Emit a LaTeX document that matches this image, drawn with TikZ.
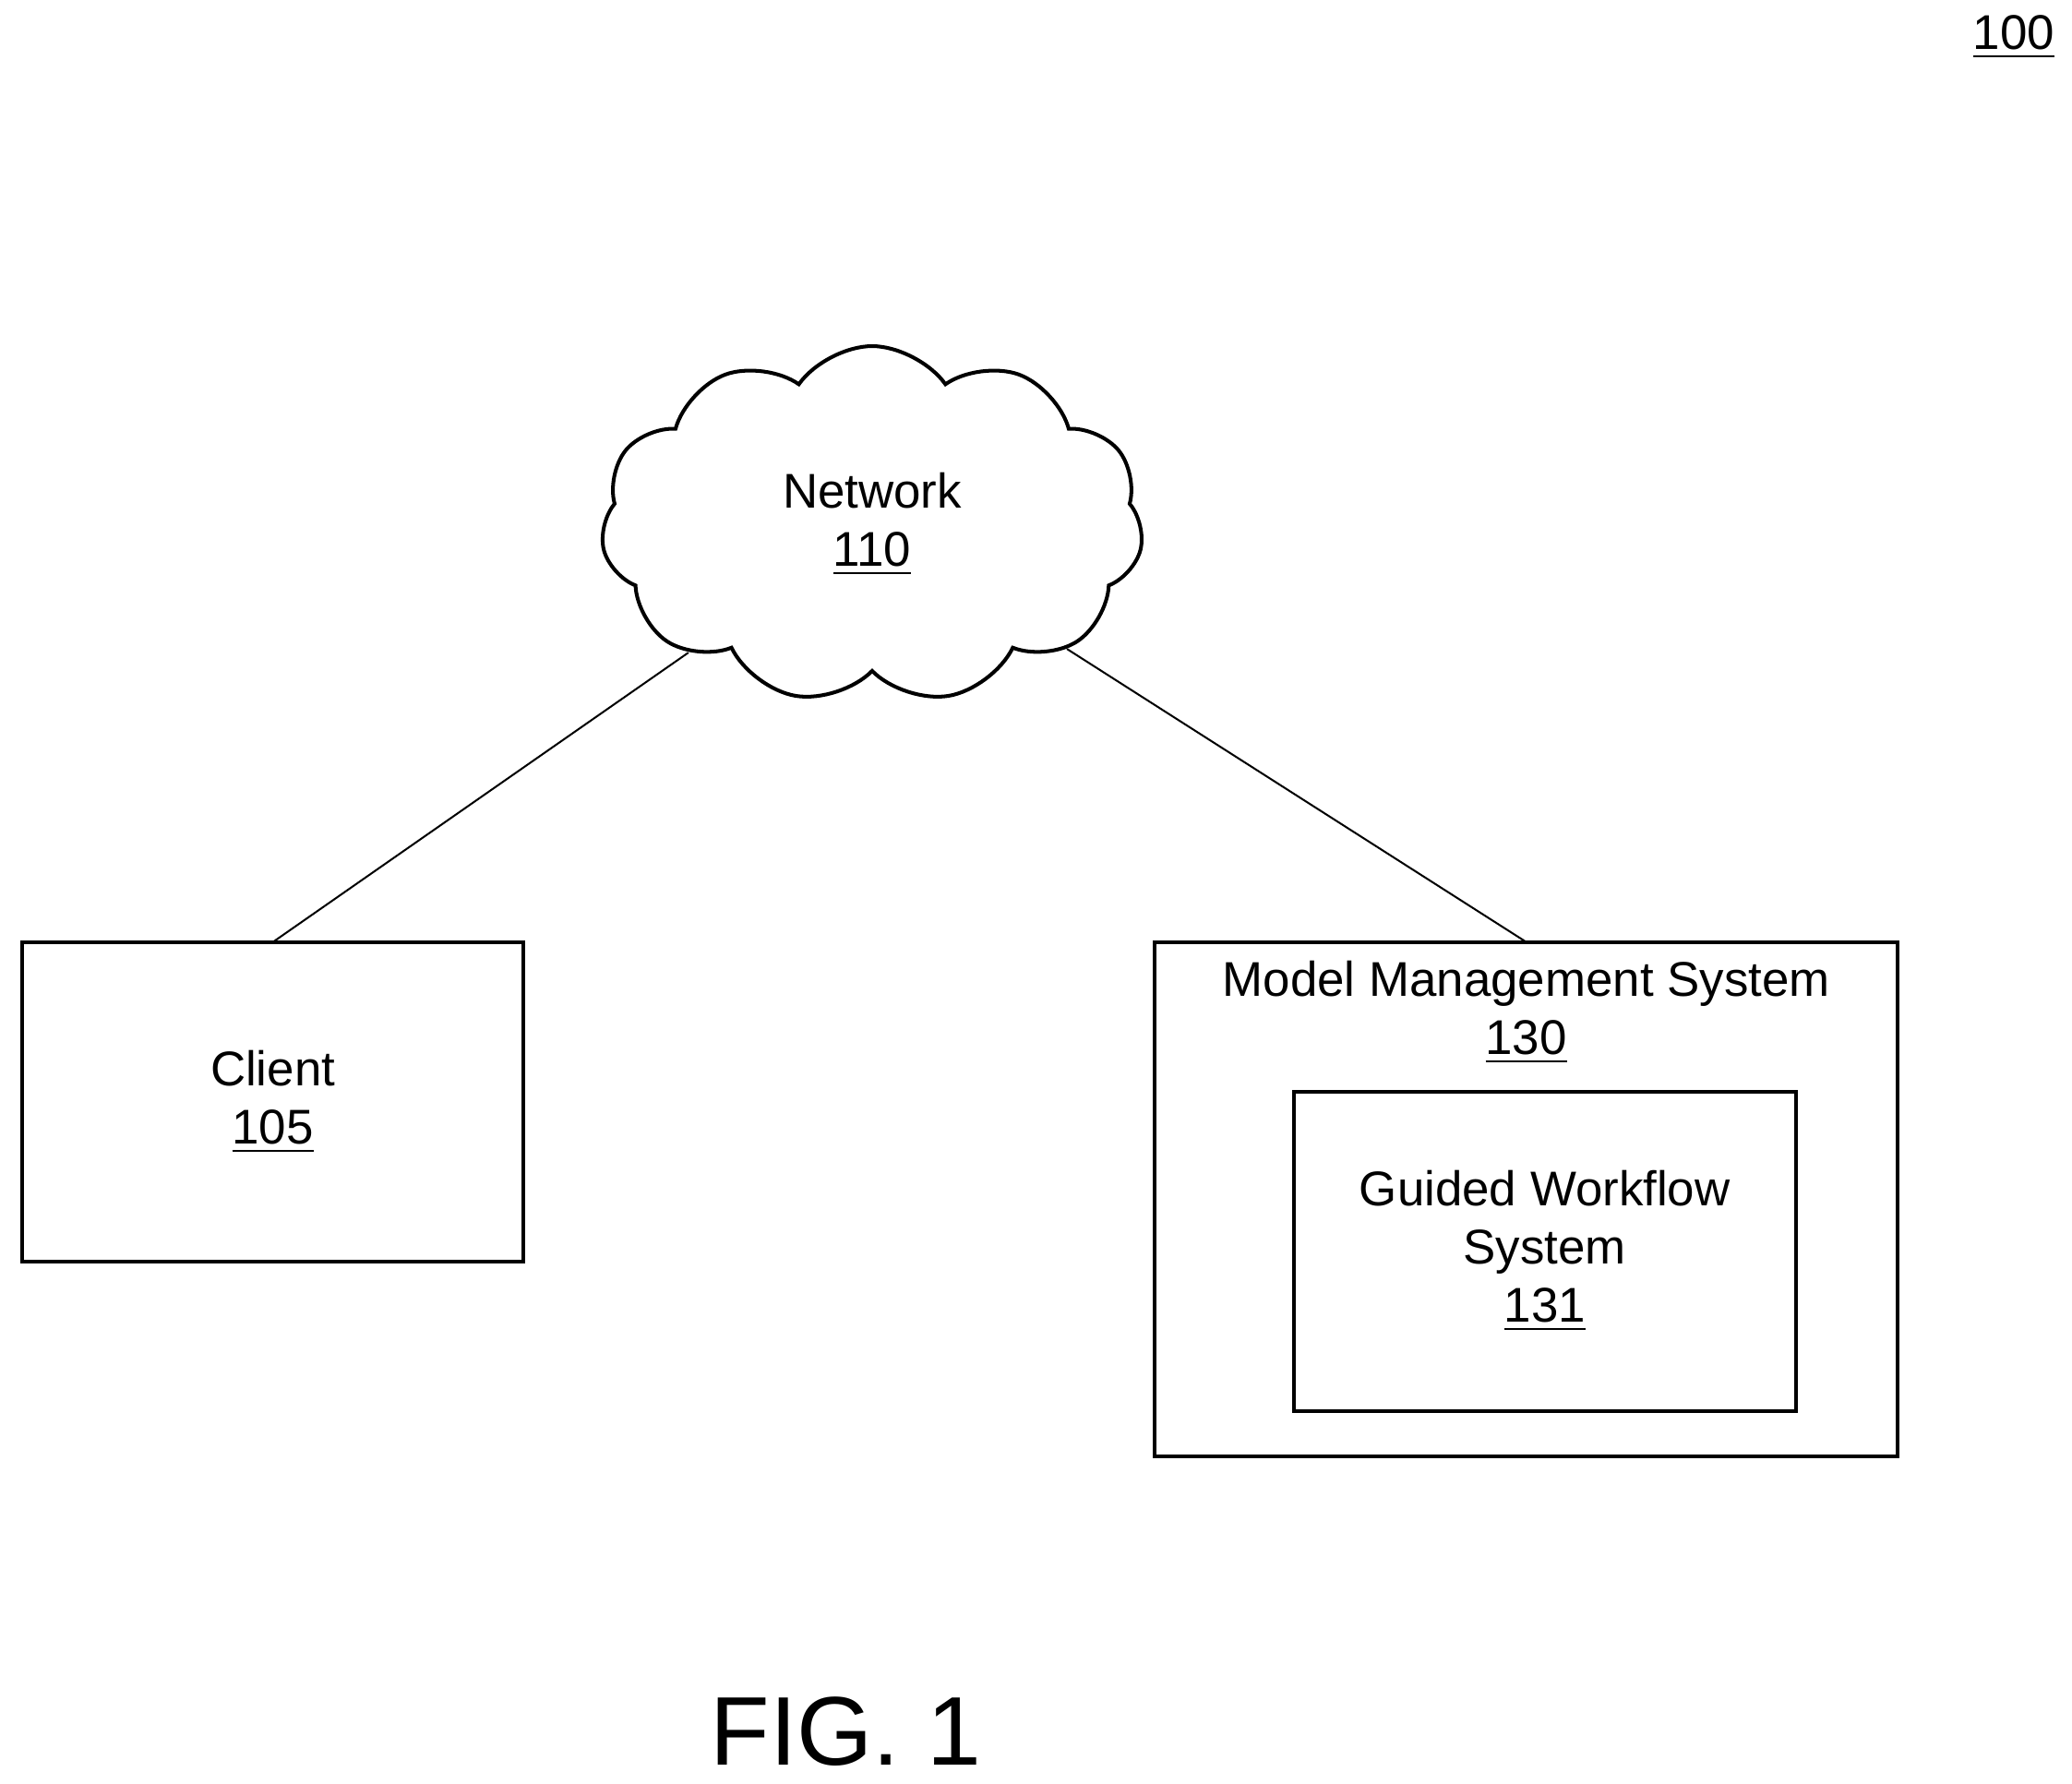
\documentclass[tikz,border=0pt]{standalone}
\usepackage{fontspec}
\setmainfont{Liberation Sans}
\usetikzlibrary{positioning,shapes.symbols}

\begin{document}
\begin{tikzpicture}[x=0.01cm,y=-0.01cm,
    box/.style={draw,thick,minimum size=0pt,inner sep=0pt,outer sep=0pt},
    lbl/.style={align=center,font=\fontsize{10.5}{12.5}\selectfont,inner sep=0pt}]
    \useasboundingbox (0,0) rectangle (1568,1350);
    %
    \node[lbl] (ref) at (1524,28) {\underline{100}};
    %
    \node[draw,thick,cloud,cloud puffs=11,cloud puff arc=110,aspect=1.5,minimum width=4.1cm,minimum height=2.7cm,inner sep=0pt] (net) at (660,397) {};
    \node[lbl] (nettxt) at (660,397) {Network\\\underline{110}};
    %
    \node[box,minimum width=3.79cm,minimum height=2.42cm] (client) at (206.5,834) {};
    \node[lbl] (clienttxt) at (206.5,834) {Client\\\underline{105}};
    %
    \node[box,minimum width=5.62cm,minimum height=3.89cm] (mms) at (1155,907.5) {};
    \node[lbl] (mmstxt) at (1155,766) {Model Management System\\\underline{130}};
    %
    \node[box,minimum width=3.80cm,minimum height=2.42cm] (gws) at (1169,947) {};
    \node[lbl] (gwstxt) at (1169,947) {Guided Workflow\\System\\\underline{131}};
    %
    \draw[thin] (net) -- (client.north);
    \draw[thin] (net) -- (mms.north);
    %
    \node[font=\fontsize{21}{25}\selectfont,inner sep=0pt] (fig) at (640,1310) {FIG. 1};
\end{tikzpicture}
\end{document}
